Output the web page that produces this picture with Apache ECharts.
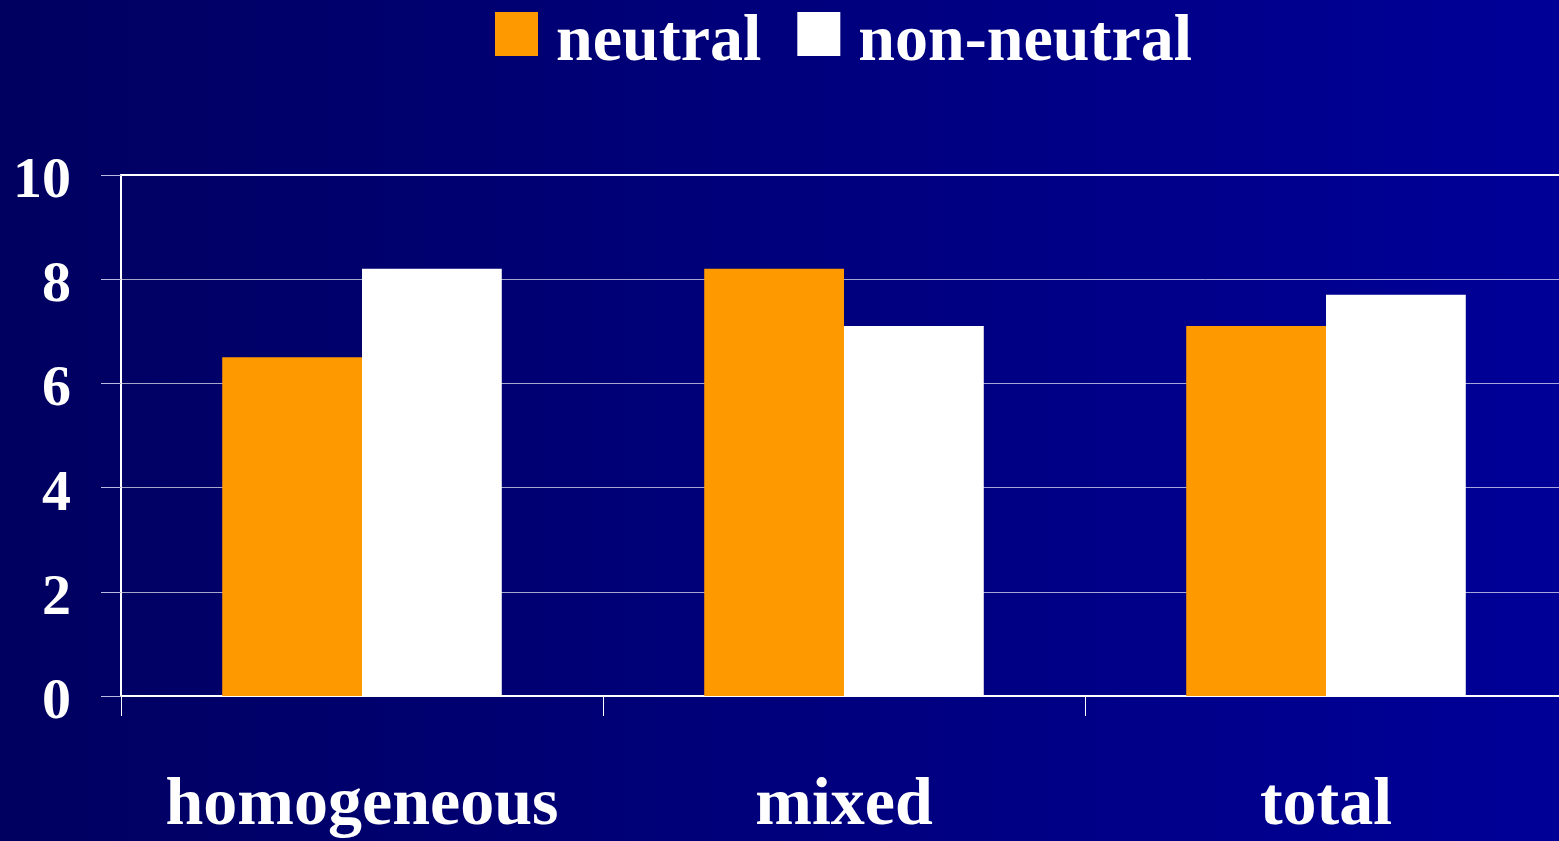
<!DOCTYPE html>
<html>
<head>
<meta charset="utf-8">
<script src="https://cdn.jsdelivr.net/npm/echarts@6/dist/echarts.min.js"></script>
<style>
  html, body { margin: 0; padding: 0; overflow: hidden; }
  /* plot runs a little past the right edge of the picture */
  #chart { width: 1567px; height: 841px; }
</style>
</head>
<body>
<div id="chart"></div>
<script>
// data
const categories = ['homogeneous', 'mixed', 'total']
const seriesNames = ['neutral', 'non-neutral']
const neutralValues = [6.5, 8.2, 7.1]
const nonNeutralValues = [8.2, 7.1, 7.7]
const yTicks = [0, 2, 4, 6, 8, 10]

const serif = '"Liberation Serif", "DejaVu Serif", serif'
const myChart = echarts.init(document.getElementById('chart'))

const option = {
  backgroundColor: {
    type: 'linear', x: 0, y: 0, x2: 1, y2: 0,
    colorStops: [
      { offset: 0, color: '#000060' },
      { offset: 1, color: '#000098' }
    ]
  },
  animation: false,
  legend: {
    left: 490,
    top: 5,
    itemWidth: 43,
    itemHeight: 44,
    itemGap: 36,
    icon: 'rect',
    data: seriesNames,
    formatter: name => '{t|' + name + '}',
    textStyle: {
      color: '#fff',
      fontFamily: serif,
      fontWeight: 'bold',
      fontSize: 66,
      rich: {
        t: {
          color: '#fff',
          fontFamily: serif,
          fontWeight: 'bold',
          fontSize: 66,
          padding: [18, 0, 0, 13]
        }
      }
    }
  },
  grid: {
    left: 121,
    top: 175,
    right: 0,
    bottom: 145,
    show: true,
    borderColor: '#fff',
    borderWidth: 2,
    backgroundColor: 'transparent'
  },
  xAxis: {
    type: 'category',
    data: categories,
    axisLine: { lineStyle: { color: '#fff', width: 2 } },
    axisTick: { show: true, length: 20, lineStyle: { color: '#fff', width: 1 } },
    axisLabel: {
      interval: 0,
      color: '#fff',
      fontFamily: serif,
      fontWeight: 'bold',
      fontSize: 68,
      margin: 76
    }
  },
  yAxis: {
    type: 'value',
    min: yTicks[0],
    max: yTicks[yTicks.length - 1],
    interval: 2,
    axisLine: { show: true, lineStyle: { color: '#fff', width: 2 } },
    axisTick: { show: true, length: 20, lineStyle: { color: '#b8b8e0', width: 1 } },
    splitLine: { lineStyle: { color: 'rgba(255,255,255,0.65)', width: 1 } },
    axisLabel: {
      margin: 50,
      formatter: '{v|{value}}',
      rich: {
        v: {
          color: '#fff',
          fontFamily: serif,
          fontWeight: 'bold',
          fontSize: 58,
          padding: [14, 0, 0, 0]
        }
      }
    }
  },
  series: [
    {
      name: seriesNames[0],
      type: 'bar',
      data: neutralValues,
      barGap: '0%',
      barCategoryGap: '42%',
      itemStyle: { color: '#ff9900' }
    },
    {
      name: seriesNames[1],
      type: 'bar',
      data: nonNeutralValues,
      barGap: '0%',
      barCategoryGap: '42%',
      itemStyle: { color: '#ffffff' }
    }
  ]
}
myChart.setOption(option)
</script>
</body>
</html>
